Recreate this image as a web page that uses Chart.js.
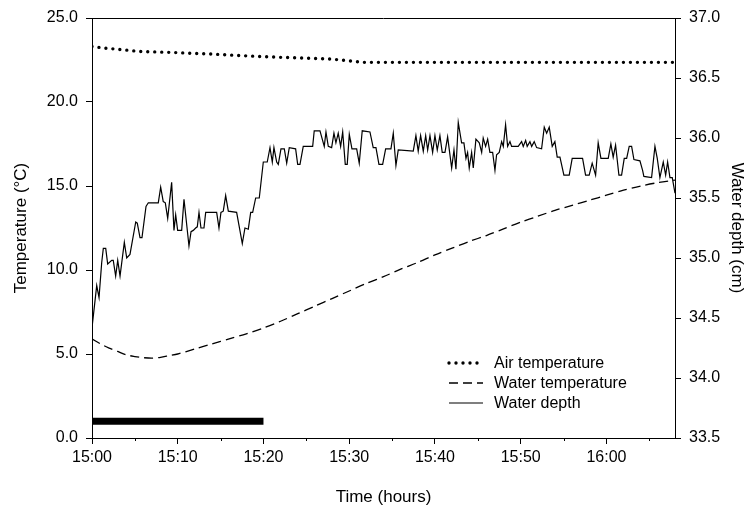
<!DOCTYPE html>
<html>
<head>
<meta charset="utf-8">
<script src="https://cdn.jsdelivr.net/npm/chart.js@4"></script>
<style>
    html, body { margin: 0; padding: 0; background: #fff; }
    #wrap { width: 750px; height: 512px; }
</style>
</head>
<body>
<div id="wrap"><canvas id="depthChart" width="750" height="512"></canvas></div>
<script>
// --- Data (x = minutes after 15:00) ---
const timeTickLabels = ['15:00', '15:10', '15:20', '15:30', '15:40', '15:50', '16:00'];

const airTime = [0, 1.6, 3.6, 5.5, 9.3, 13.6, 17.4, 21.9, 27.8, 31.7, 68];
const airTemp = [23.3, 23.2, 23.11, 23.01, 22.95, 22.86, 22.76, 22.66, 22.56, 22.36, 22.36];

const waterTime = [0, 1, 2, 3, 4, 5, 6, 7, 8, 9, 10, 12, 14, 16, 18, 20, 22, 24, 26, 28, 30, 32, 34,
    36, 38, 40, 42, 44, 46, 48, 50, 52, 54, 56, 58, 60, 62, 64, 66, 68];
const waterTemp = [5.9, 5.6, 5.35, 5.15, 4.95, 4.85, 4.78, 4.75, 4.8, 4.9, 5.0, 5.3, 5.6, 5.9, 6.2, 6.55,
    6.95, 7.4, 7.85, 8.3, 8.75, 9.2, 9.6, 10.05, 10.45, 10.9, 11.3, 11.7, 12.05, 12.45, 12.85, 13.2,
    13.55, 13.85, 14.15, 14.45, 14.75, 15.0, 15.2, 15.35];

const depthTime = [0, 0.55, 0.82, 1.13, 1.32, 1.60, 1.83, 2.30, 2.48, 2.76,
    3.00, 3.27, 3.77, 4.05, 4.43, 5.10, 5.28, 5.60, 5.83, 6.30,
    6.57, 7.73, 8.01, 8.31, 8.55, 8.83, 9.29, 9.56, 9.76, 9.99,
    10.46, 10.73, 11.31, 11.55, 11.81, 12.09, 12.28, 12.48, 12.71, 13.06,
    13.26, 14.54, 14.81, 15.04, 15.31, 15.59, 15.90, 16.87, 17.53, 17.84,
    18.23, 18.51, 18.74, 19.09, 19.51, 19.98, 20.44, 20.76, 21.03, 21.22,
    21.54, 21.73, 22.04, 22.43, 22.71, 23.01, 23.75, 23.99, 24.26, 24.64,
    25.74, 25.92, 26.59, 27.09, 27.29, 27.56, 27.95, 28.22, 28.45, 28.72,
    29.00, 29.24, 29.54, 29.77, 30.01, 30.32, 30.87, 31.17, 31.52, 32.42,
    32.80, 33.12, 33.47, 33.90, 34.25, 34.87, 35.14, 35.45, 35.72, 37.47,
    37.78, 38.05, 38.33, 38.64, 38.92, 39.15, 39.42, 39.73, 40.00, 40.27,
    40.58, 40.85, 41.17, 41.48, 41.95, 42.22, 42.45, 42.72, 43.11, 43.38,
    43.62, 43.81, 44.00, 44.28, 44.47, 44.78, 45.17, 45.45, 45.63, 45.91,
    46.15, 46.41, 46.73, 47.00, 47.19, 47.50, 47.78, 47.97, 48.24, 48.48,
    48.75, 48.94, 49.71, 50.11, 50.30, 50.58, 50.76, 51.08, 51.28, 51.58,
    51.86, 52.44, 52.75, 53.03, 53.33, 53.68, 53.99, 54.26, 54.58, 55.04,
    55.66, 56.01, 57.22, 57.57, 57.99, 58.34, 58.74, 59.04, 59.36, 59.74,
    60.21, 60.52, 60.79, 61.07, 61.46, 61.77, 62.08, 62.36, 62.66, 62.94,
    63.21, 63.91, 64.22, 64.37, 65.27, 65.66, 65.93, 66.24, 66.63, 66.91,
    67.14, 67.41, 67.68, 68.00];
const depthCm = [34.42, 34.77, 34.67, 34.96, 35.08, 35.08, 34.95, 34.98, 34.98, 34.85,
    34.98, 34.85, 35.13, 35.00, 35.03, 35.30, 35.29, 35.17, 35.17, 35.43,
    35.46, 35.46, 35.59, 35.47, 35.46, 35.33, 35.63, 35.23, 35.36, 35.23,
    35.23, 35.49, 35.10, 35.22, 35.23, 35.25, 35.26, 35.38, 35.25, 35.25,
    35.38, 35.38, 35.25, 35.38, 35.39, 35.52, 35.39, 35.38, 35.12, 35.25,
    35.24, 35.38, 35.38, 35.50, 35.50, 35.80, 35.80, 35.92, 35.80, 35.92,
    35.80, 35.78, 35.91, 35.91, 35.79, 35.92, 35.91, 35.78, 35.78, 35.93,
    35.93, 36.06, 36.06, 35.93, 36.05, 35.93, 35.92, 36.04, 35.96, 36.04,
    35.93, 36.05, 35.78, 35.78, 36.03, 35.91, 35.91, 35.79, 36.06, 36.05,
    35.92, 35.92, 35.78, 35.78, 35.91, 35.91, 36.04, 35.77, 35.90, 35.89,
    36.02, 35.89, 36.02, 35.89, 36.02, 35.90, 36.02, 35.88, 36.02, 35.90,
    36.02, 35.88, 35.88, 36.01, 35.75, 35.90, 35.74, 36.13, 35.96, 35.96,
    35.83, 35.88, 35.75, 35.88, 35.75, 35.99, 35.96, 35.88, 36.00, 35.93,
    35.99, 35.88, 35.88, 35.73, 35.86, 35.88, 35.97, 35.93, 36.11, 35.93,
    35.97, 35.93, 35.93, 35.97, 35.93, 35.98, 35.93, 35.97, 35.93, 35.97,
    35.92, 35.91, 36.09, 36.04, 36.09, 35.93, 35.97, 35.84, 35.84, 35.69,
    35.69, 35.83, 35.83, 35.69, 35.69, 35.79, 35.69, 35.96, 35.83, 35.83,
    35.83, 35.95, 35.84, 35.94, 35.69, 35.69, 35.83, 35.83, 35.93, 35.93,
    35.82, 35.81, 35.73, 35.68, 35.67, 35.93, 35.83, 35.67, 35.80, 35.69,
    35.80, 35.67, 35.67, 35.54];

// thick bar marking the first 20 minutes
const barTime = [0, 20];
const barLevel = [1.0, 1.0];

const legendNames = ['Air temperature', 'Water temperature', 'Water depth'];

function toPoints(xs, ys) {
    return xs.map((x, i) => ({ x: x, y: ys[i] }));
}

const FONT = "'Liberation Sans', Arial, Helvetica, sans-serif";
Chart.defaults.font.family = FONT;
Chart.defaults.color = '#000';

const airStyle = { borderDash: [0, 7], borderCapStyle: 'round', borderWidth: 3.4 };
const waterStyle = { borderDash: [9, 5], borderCapStyle: 'butt', borderWidth: 1.3 };
const depthStyle = { borderDash: [], borderCapStyle: 'butt', borderWidth: 1.2 };

// frame on top, minor x ticks and the legend box
const extrasPlugin = {
    id: 'extras',
    afterDraw(chart) {
        const ctx = chart.ctx;
        const area = chart.chartArea;
        const xs = chart.scales.x;
        ctx.save();
        ctx.strokeStyle = '#000';
        ctx.lineWidth = 1;
        ctx.setLineDash([]);
        ctx.beginPath();
        ctx.moveTo(area.left, area.top + 0.5);
        ctx.lineTo(area.right, area.top + 0.5);
        for (let m = 5; m < 68; m += 10) {
            const px = Math.round(xs.getPixelForValue(m)) + 0.5;
            ctx.moveTo(px, area.bottom);
            ctx.lineTo(px, area.bottom + 3);
        }
        ctx.stroke();

        // legend
        const styles = [airStyle, waterStyle, depthStyle];
        const rowY = [363, 383, 403];
        ctx.font = '16px ' + FONT;
        ctx.textBaseline = 'middle';
        ctx.fillStyle = '#000';
        styles.forEach((s, i) => {
            ctx.beginPath();
            ctx.lineWidth = s.borderWidth;
            ctx.lineCap = s.borderCapStyle;
            ctx.setLineDash(s.borderDash);
            ctx.moveTo(449, rowY[i]);
            ctx.lineTo(483, rowY[i]);
            ctx.stroke();
            ctx.fillText(legendNames[i], 494, rowY[i] + 1);
        });
        ctx.restore();
    }
};

new Chart(document.getElementById('depthChart'), {
    type: 'line',
    data: {
        datasets: [
            Object.assign({
                label: legendNames[0],
                data: toPoints(airTime, airTemp),
                yAxisID: 'y',
                borderColor: '#000'
            }, airStyle),
            Object.assign({
                label: legendNames[1],
                data: toPoints(waterTime, waterTemp),
                yAxisID: 'y',
                borderColor: '#000',
                tension: 0.3
            }, waterStyle),
            Object.assign({
                label: legendNames[2],
                data: toPoints(depthTime, depthCm),
                yAxisID: 'y2',
                borderColor: '#000'
            }, depthStyle),
            {
                label: 'bar',
                data: toPoints(barTime, barLevel),
                yAxisID: 'y',
                borderColor: '#000',
                borderWidth: 7,
                borderCapStyle: 'butt'
            }
        ]
    },
    options: {
        responsive: false,
        animation: false,
        devicePixelRatio: 1,
        layout: { padding: { top: 18, left: 0, right: 0, bottom: 0 } },
        elements: { point: { radius: 0 }, line: { fill: false } },
        plugins: { legend: { display: false }, tooltip: { enabled: false } },
        scales: {
            x: {
                type: 'linear',
                min: 0,
                max: 68,
                border: { display: true, color: '#000', width: 1 },
                grid: { drawOnChartArea: false, drawTicks: true, tickLength: 6, color: '#000' },
                ticks: {
                    stepSize: 10,
                    includeBounds: false,
                    maxRotation: 0,
                    padding: 4,
                    font: { size: 16 },
                    callback: (v) => timeTickLabels[v / 10]
                },
                title: { display: true, text: 'Time (hours)', font: { size: 17 }, padding: { top: 10, bottom: 4 } },
                afterFit: (s) => { s.height = 74; }
            },
            y: {
                position: 'left',
                min: 0,
                max: 25,
                border: { display: true, color: '#000', width: 1 },
                grid: { drawOnChartArea: false, drawTicks: true, tickLength: 6, color: '#000' },
                ticks: {
                    stepSize: 5,
                    padding: 8,
                    font: { size: 16 },
                    callback: (v) => v.toFixed(1)
                },
                title: { display: true, text: 'Temperature (°C)', font: { size: 17 }, padding: { top: 11, bottom: 0 } },
                afterFit: (s) => { s.width = 92; }
            },
            y2: {
                position: 'right',
                min: 33.5,
                max: 37.0,
                border: { display: true, color: '#000', width: 1 },
                grid: { drawOnChartArea: false, drawTicks: true, tickLength: 6, color: '#000' },
                ticks: {
                    stepSize: 0.5,
                    padding: 8,
                    font: { size: 16 },
                    callback: (v) => v.toFixed(1)
                },
                title: { display: true, text: 'Water depth (cm)', font: { size: 17 }, padding: { top: 3 } },
                afterFit: (s) => { s.width = 75; }
            }
        }
    },
    plugins: [extrasPlugin]
});
</script>
</body>
</html>
